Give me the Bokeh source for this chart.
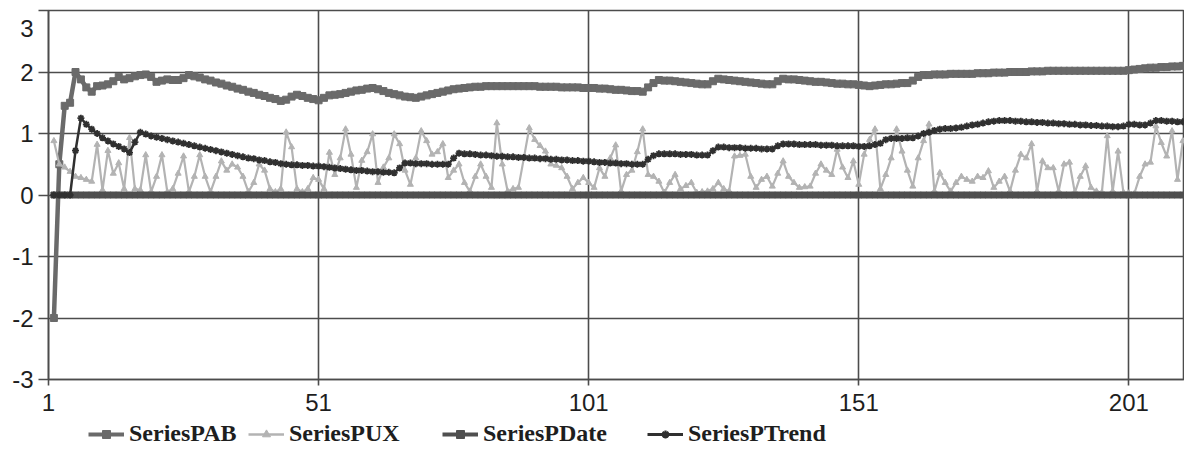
from bokeh.plotting import figure
from bokeh.layouts import column
from bokeh.models import Range1d, FixedTicker, Legend, LegendItem
from bokeh.embed import file_html
from bokeh.resources import INLINE

# ---- data -------------------------------------------------------------
categories = list(range(2, 212))          # category numbers of the points
x_ticks = [1, 51, 101, 151, 201]          # category axis labels
y_ticks = [-3, -2, -1, 0, 1, 2, 3]
series_names = ["SeriesPAB", "SeriesPUX", "SeriesPDate", "SeriesPTrend"]

series_pab = [
    -2.00, 0.50, 1.45, 1.50, 2.00, 1.88, 1.75, 1.68, 1.77, 1.78,
    1.80, 1.85, 1.92, 1.88, 1.90, 1.93, 1.95, 1.96, 1.92, 1.84,
    1.86, 1.88, 1.87, 1.87, 1.90, 1.95, 1.93, 1.91, 1.88, 1.86,
    1.83, 1.81, 1.78, 1.76, 1.73, 1.71, 1.68, 1.66, 1.63, 1.61,
    1.58, 1.56, 1.53, 1.55, 1.60, 1.63, 1.61, 1.58, 1.56, 1.54,
    1.58, 1.62, 1.63, 1.64, 1.66, 1.68, 1.70, 1.71, 1.73, 1.74,
    1.72, 1.69, 1.66, 1.64, 1.62, 1.60, 1.59, 1.58, 1.60, 1.62,
    1.64, 1.66, 1.68, 1.70, 1.72, 1.73, 1.74, 1.75, 1.76, 1.76,
    1.77, 1.77, 1.77, 1.77, 1.77, 1.77, 1.77, 1.77, 1.77, 1.77,
    1.76, 1.76, 1.76, 1.76, 1.75, 1.75, 1.75, 1.75, 1.74, 1.74,
    1.74, 1.73, 1.73, 1.72, 1.71, 1.71, 1.70, 1.69, 1.69, 1.68,
    1.75, 1.82, 1.87, 1.86, 1.86, 1.85, 1.84, 1.83, 1.82, 1.81,
    1.80, 1.80, 1.85, 1.89, 1.88, 1.87, 1.86, 1.85, 1.84, 1.83,
    1.82, 1.81, 1.80, 1.80, 1.85, 1.89, 1.88, 1.88, 1.87, 1.86,
    1.85, 1.84, 1.84, 1.83, 1.82, 1.81, 1.81, 1.80, 1.80, 1.79,
    1.78, 1.77, 1.78, 1.79, 1.80, 1.80, 1.81, 1.82, 1.82, 1.86,
    1.92, 1.95, 1.95, 1.96, 1.96, 1.96, 1.97, 1.97, 1.97, 1.97,
    1.97, 1.98, 1.98, 1.98, 1.99, 1.99, 1.99, 2.00, 2.00, 2.00,
    2.00, 2.01, 2.01, 2.01, 2.02, 2.02, 2.02, 2.02, 2.02, 2.02,
    2.02, 2.02, 2.02, 2.02, 2.02, 2.02, 2.02, 2.02, 2.02, 2.03,
    2.04, 2.05, 2.06, 2.07, 2.07, 2.08, 2.08, 2.09, 2.09, 2.10,
]

series_pux = [
    0.88, 0.50, 0.45, 0.38, 0.30, 0.28, 0.25, 0.22, 0.82, 0.08,
    0.72, 0.35, 0.52, 0.10, 0.93, 0.10, 0.08, 0.65, 0.05, 0.30,
    0.65, 0.05, 0.10, 0.35, 0.63, 0.05, 0.30, 0.65, 0.30, 0.05,
    0.30, 0.55, 0.40, 0.50, 0.45, 0.30, 0.05, 0.20, 0.50, 0.40,
    0.10, 0.05, 0.10, 1.02, 0.78, 0.10, 0.05, 0.10, 0.28, 0.25,
    0.10, 0.69, 0.33, 0.60, 1.07, 0.66, 0.12, 0.56, 0.70, 0.99,
    0.20, 0.45, 0.60, 0.99, 0.83, 0.40, 0.17, 0.60, 1.04, 0.88,
    0.66, 0.70, 0.83, 0.28, 0.40, 0.50, 0.20, 0.06, 0.30, 0.50,
    0.30, 0.12, 1.17, 0.50, 0.06, 0.10, 0.12, 0.60, 1.09, 0.90,
    0.80, 0.71, 0.50, 0.48, 0.44, 0.30, 0.10, 0.20, 0.28, 0.20,
    0.12, 0.44, 0.30, 0.60, 0.81, 0.06, 0.33, 0.40, 0.70, 1.07,
    0.33, 0.30, 0.22, 0.04, 0.20, 0.33, 0.10, 0.15, 0.20, 0.04,
    0.05, 0.06, 0.10, 0.20, 0.10, 0.06, 0.63, 0.64, 0.66, 0.30,
    0.12, 0.25, 0.30, 0.14, 0.35, 0.55, 0.30, 0.20, 0.12, 0.13,
    0.14, 0.35, 0.50, 0.40, 0.33, 0.74, 0.45, 0.28, 0.55, 0.17,
    0.66, 0.90, 1.07, 0.10, 0.33, 0.60, 1.07, 0.71, 0.40, 0.14,
    0.60, 0.88, 1.15, 0.06, 0.36, 0.20, 0.06, 0.20, 0.30, 0.25,
    0.22, 0.30, 0.28, 0.39, 0.12, 0.22, 0.30, 0.06, 0.40, 0.66,
    0.60, 0.83, 0.06, 0.55, 0.44, 0.44, 0.06, 0.50, 0.53, 0.04,
    0.30, 0.47, 0.12, 0.06, 0.04, 0.96, 0.06, 0.71, 0.04, 0.03,
    0.02, 0.30, 0.50, 0.53, 1.12, 0.85, 0.63, 1.04, 0.25, 0.88,
]

series_pdate = [
    0.0, 0.0, 0.0, 0.0, 0.0, 0.0, 0.0, 0.0, 0.0, 0.0,
    0.0, 0.0, 0.0, 0.0, 0.0, 0.0, 0.0, 0.0, 0.0, 0.0,
    0.0, 0.0, 0.0, 0.0, 0.0, 0.0, 0.0, 0.0, 0.0, 0.0,
    0.0, 0.0, 0.0, 0.0, 0.0, 0.0, 0.0, 0.0, 0.0, 0.0,
    0.0, 0.0, 0.0, 0.0, 0.0, 0.0, 0.0, 0.0, 0.0, 0.0,
    0.0, 0.0, 0.0, 0.0, 0.0, 0.0, 0.0, 0.0, 0.0, 0.0,
    0.0, 0.0, 0.0, 0.0, 0.0, 0.0, 0.0, 0.0, 0.0, 0.0,
    0.0, 0.0, 0.0, 0.0, 0.0, 0.0, 0.0, 0.0, 0.0, 0.0,
    0.0, 0.0, 0.0, 0.0, 0.0, 0.0, 0.0, 0.0, 0.0, 0.0,
    0.0, 0.0, 0.0, 0.0, 0.0, 0.0, 0.0, 0.0, 0.0, 0.0,
    0.0, 0.0, 0.0, 0.0, 0.0, 0.0, 0.0, 0.0, 0.0, 0.0,
    0.0, 0.0, 0.0, 0.0, 0.0, 0.0, 0.0, 0.0, 0.0, 0.0,
    0.0, 0.0, 0.0, 0.0, 0.0, 0.0, 0.0, 0.0, 0.0, 0.0,
    0.0, 0.0, 0.0, 0.0, 0.0, 0.0, 0.0, 0.0, 0.0, 0.0,
    0.0, 0.0, 0.0, 0.0, 0.0, 0.0, 0.0, 0.0, 0.0, 0.0,
    0.0, 0.0, 0.0, 0.0, 0.0, 0.0, 0.0, 0.0, 0.0, 0.0,
    0.0, 0.0, 0.0, 0.0, 0.0, 0.0, 0.0, 0.0, 0.0, 0.0,
    0.0, 0.0, 0.0, 0.0, 0.0, 0.0, 0.0, 0.0, 0.0, 0.0,
    0.0, 0.0, 0.0, 0.0, 0.0, 0.0, 0.0, 0.0, 0.0, 0.0,
    0.0, 0.0, 0.0, 0.0, 0.0, 0.0, 0.0, 0.0, 0.0, 0.0,
    0.0, 0.0, 0.0, 0.0, 0.0, 0.0, 0.0, 0.0, 0.0, 0.0,
]

series_ptrend = [
    0.00, 0.00, 0.00, 0.00, 0.72, 1.25, 1.15, 1.07, 1.00, 0.93,
    0.88, 0.83, 0.79, 0.75, 0.69, 0.86, 1.02, 0.99, 0.96, 0.94,
    0.92, 0.90, 0.88, 0.86, 0.84, 0.82, 0.80, 0.78, 0.76, 0.74,
    0.72, 0.70, 0.68, 0.66, 0.64, 0.62, 0.60, 0.59, 0.57, 0.56,
    0.54, 0.53, 0.51, 0.50, 0.49, 0.49, 0.48, 0.48, 0.47, 0.47,
    0.46, 0.45, 0.44, 0.43, 0.42, 0.41, 0.40, 0.40, 0.39, 0.38,
    0.38, 0.37, 0.37, 0.36, 0.44, 0.52, 0.52, 0.51, 0.51, 0.51,
    0.50, 0.50, 0.50, 0.50, 0.60, 0.68, 0.67, 0.67, 0.66, 0.65,
    0.65, 0.64, 0.63, 0.63, 0.62, 0.62, 0.61, 0.61, 0.60, 0.60,
    0.59, 0.59, 0.58, 0.58, 0.57, 0.57, 0.56, 0.56, 0.55, 0.55,
    0.54, 0.53, 0.53, 0.52, 0.52, 0.51, 0.51, 0.50, 0.50, 0.50,
    0.58, 0.64, 0.67, 0.67, 0.67, 0.67, 0.66, 0.66, 0.66, 0.65,
    0.65, 0.65, 0.72, 0.78, 0.78, 0.77, 0.77, 0.77, 0.76, 0.76,
    0.76, 0.75, 0.75, 0.75, 0.80, 0.83, 0.83, 0.83, 0.82, 0.82,
    0.82, 0.82, 0.81, 0.81, 0.81, 0.80, 0.80, 0.80, 0.80, 0.79,
    0.79, 0.80, 0.82, 0.84, 0.90, 0.92, 0.92, 0.92, 0.93, 0.93,
    0.96, 1.00, 1.02, 1.05, 1.07, 1.08, 1.08, 1.09, 1.10, 1.12,
    1.14, 1.15, 1.17, 1.19, 1.20, 1.21, 1.21, 1.21, 1.20, 1.20,
    1.19, 1.19, 1.18, 1.18, 1.17, 1.17, 1.16, 1.16, 1.15, 1.15,
    1.14, 1.14, 1.13, 1.13, 1.12, 1.12, 1.11, 1.11, 1.12, 1.15,
    1.15, 1.14, 1.14, 1.17, 1.21, 1.21, 1.20, 1.20, 1.19, 1.19,
]

# ---- styles -----------------------------------------------------------
GRID = "#4c4c4c"
TICK_FONT = "Liberation Sans"
TEXT = "#1e1e1e"
c_pab, c_pux, c_pdate, c_ptrend = "#6a6a6a", "#b3b3b3", "#4f4f4f", "#303030"

p = figure(
    width=1184, height=421,
    x_range=Range1d(1, 211.3), y_range=Range1d(y_ticks[0], y_ticks[-1]),
    output_backend="svg", toolbar_location=None,
    min_border_left=48, min_border_right=0, min_border_top=10, min_border_bottom=42,
    background_fill_color="white", border_fill_color="white",
)

p.outline_line_color = GRID
p.outline_line_width = 1.6

for ax in (p.xaxis[0], p.yaxis[0]):
    ax.axis_line_color = GRID
    ax.axis_line_width = 1.6
    ax.major_tick_line_color = GRID
    ax.major_tick_line_width = 1.6
    ax.major_tick_in = 0
    ax.minor_tick_line_color = None
    ax.major_label_text_font = TICK_FONT
    ax.major_label_text_font_size = "24px"
    ax.major_label_text_color = TEXT

p.xaxis.ticker = FixedTicker(ticks=x_ticks)
p.yaxis.ticker = FixedTicker(ticks=y_ticks)
p.xaxis.major_tick_out = 6
p.xaxis.major_label_standoff = 8
p.yaxis.major_tick_out = 10
p.yaxis.major_label_standoff = 5
p.yaxis.major_label_text_line_height = 0.55
# plain hyphen minus signs; the top label sits just below the top edge
y_overrides = {t: str(t) for t in y_ticks}
y_overrides[y_ticks[-1]] = "\n" + str(y_ticks[-1])
p.yaxis.major_label_overrides = y_overrides

p.xgrid.grid_line_color = GRID
p.xgrid.grid_line_width = 1.6
p.ygrid.grid_line_color = GRID
p.ygrid.grid_line_width = 1.6

# ---- series -----------------------------------------------------------
p.line(categories, series_pab, line_color=c_pab, line_width=4.5)
p.scatter(categories, series_pab, marker="square", size=7, fill_color=c_pab, line_color=c_pab)

p.line(categories, series_pux, line_color=c_pux, line_width=2.2)
p.scatter(categories, series_pux, marker="triangle", size=6, fill_color=c_pux, line_color=c_pux)

p.line(categories, series_pdate, line_color=c_pdate, line_width=5)
p.scatter(categories, series_pdate, marker="square", size=6, fill_color=c_pdate, line_color=c_pdate)

p.line(categories, series_ptrend, line_color=c_ptrend, line_width=2.5)
p.scatter(categories, series_ptrend, marker="asterisk", size=7, line_color=c_ptrend, line_width=1.8)

# ---- legend strip under the chart -------------------------------------
# its swatch renderers hold the same series but lie outside the strip's view
lg = figure(width=1184, height=28, x_range=Range1d(-2, -1), y_range=Range1d(-2, -1),
            output_backend="svg", toolbar_location=None, min_border=0,
            x_axis_location=None, y_axis_location=None,
            outline_line_color=None, background_fill_color="white",
            border_fill_color="white")
lg.grid.visible = False

swatch_styles = [
    (series_pab, c_pab, "square", 4, 9, True),
    (series_pux, c_pux, "triangle", 2.5, 9, True),
    (series_pdate, c_pdate, "square", 4, 9, True),
    (series_ptrend, c_ptrend, "asterisk", 3, 12, False),
]
# offsets from the strip's frame, which the column aligns with the chart's frame
legend_x = [40, 200, 394, 599]

for name, (vals, color, marker, lw, size, filled), lx in zip(series_names, swatch_styles, legend_x):
    r_line = lg.line(categories, vals, line_color=color, line_width=lw)
    if filled:
        r_mark = lg.scatter(categories, vals, marker=marker, size=size,
                            fill_color=color, line_color=color)
    else:
        r_mark = lg.scatter(categories, vals, marker=marker, size=size,
                            line_color=color, line_width=2.2)
    lg.add_layout(Legend(
        items=[LegendItem(label=name, renderers=[r_line, r_mark])],
        location=(lx, 2), orientation="horizontal",
        border_line_color=None, background_fill_alpha=0,
        padding=0, margin=0, spacing=0,
        glyph_width=36, glyph_height=20, label_standoff=5, label_height=20,
        label_text_font="Liberation Serif", label_text_font_style="bold",
        label_text_font_size="24px", label_text_color=TEXT,
        label_text_line_height=1.0,
    ))

layout = column(p, lg, spacing=0)
open("out.html", "w").write(file_html(layout, INLINE))
